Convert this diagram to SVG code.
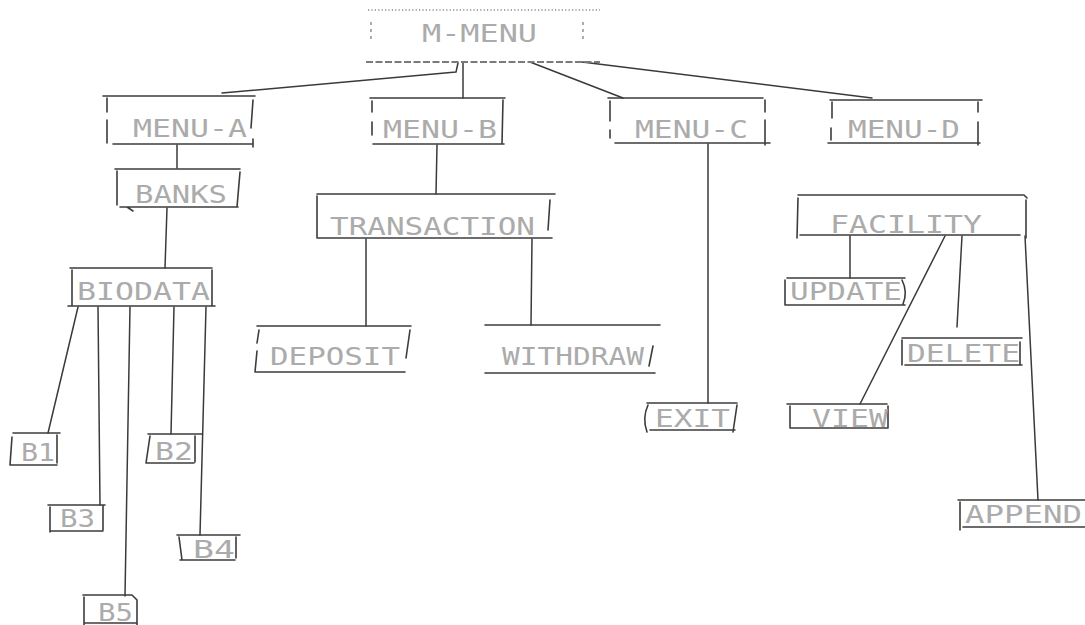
<svg xmlns="http://www.w3.org/2000/svg" width="1085" height="625" viewBox="0 0 1085 625">
  <style>
    .bg { fill: #ffffff; }
    .edge { fill: none; stroke: #3c3c3c; stroke-width: 1.6; stroke-linecap: round; stroke-linejoin: round; }
    .link { fill: none; stroke: #3a3a3a; stroke-width: 1.5; stroke-linecap: round; stroke-linejoin: round; }
    .dots { fill: none; stroke: #8a8a8a; stroke-width: 1.4; stroke-dasharray: 1.2 2.2; }
    .wave { fill: none; stroke: #7a7a7a; stroke-width: 2.2; stroke-dasharray: 7 2.5; }
    .lbl { font-family: "DejaVu Sans Mono", "Liberation Mono", monospace; font-size: 25px; fill: #ababab; }
  </style>

  <rect class="bg" x="0" y="0" width="1085" height="625"/>

  <!-- connectors -->
  <g id="connectors">
    <polyline class="link" points="458,63 456,72 222,93"/>
    <line class="link" x1="463" y1="63" x2="463" y2="98"/>
    <line class="link" x1="530" y1="62" x2="623" y2="98"/>
    <line class="link" x1="582" y1="62" x2="872" y2="98"/>
    <line class="link" x1="177" y1="145" x2="177" y2="168"/>
    <line class="link" x1="167" y1="208" x2="165" y2="268"/>
    <line class="link" x1="78" y1="307" x2="48" y2="433"/>
    <line class="link" x1="98" y1="307" x2="100" y2="505"/>
    <line class="link" x1="130" y1="307" x2="125" y2="596"/>
    <line class="link" x1="174" y1="307" x2="171" y2="434"/>
    <line class="link" x1="206" y1="307" x2="200" y2="535"/>
    <line class="link" x1="437" y1="145" x2="436" y2="194"/>
    <line class="link" x1="366" y1="239" x2="366" y2="326"/>
    <line class="link" x1="532" y1="239" x2="531" y2="325"/>
    <line class="link" x1="708" y1="144" x2="708" y2="403"/>
    <line class="link" x1="850" y1="236" x2="850" y2="278"/>
    <line class="link" x1="945" y1="236" x2="860" y2="404"/>
    <line class="link" x1="962" y1="236" x2="957" y2="327"/>
    <line class="link" x1="1025" y1="236" x2="1038" y2="500"/>
  </g>

  <!-- root -->
  <g id="m-menu">
    <line class="dots" x1="368" y1="10" x2="600" y2="10"/>
    <line class="dots" x1="371" y1="22" x2="371" y2="43" style="stroke-dasharray: 3 4"/>
    <line class="dots" x1="583" y1="22" x2="583" y2="43" style="stroke-dasharray: 3 4"/>
    <line class="wave" x1="366" y1="62" x2="600" y2="62"/>
    <text class="lbl" x="422" y="42" textLength="115" lengthAdjust="spacingAndGlyphs">M-MENU</text>
  </g>

  <g id="menu-a">
    <path class="edge" d="M103,96 H255 M107,98 V112 M107,120 V143 M253,100 L251,128 M113,144 H253 M253,139 V147"/>
    <text class="lbl" x="133" y="137" textLength="114" lengthAdjust="spacingAndGlyphs">MENU-A</text>
  </g>

  <g id="menu-b">
    <path class="edge" d="M370,98 H505 M372,101 V112 M372,122 V135 M503,100 L502,143 M373,144 H504"/>
    <text class="lbl" x="383" y="138" textLength="114" lengthAdjust="spacingAndGlyphs">MENU-B</text>
  </g>

  <g id="menu-c">
    <path class="edge" d="M608,98 H763 M610,101 V121 M610,130 V138 M765,100 V112 M765,120 V145 M615,143 H770"/>
    <text class="lbl" x="635" y="138" textLength="113" lengthAdjust="spacingAndGlyphs">MENU-C</text>
  </g>

  <g id="menu-d">
    <path class="edge" d="M830,100 H982 M832,102 V118 M831,128 V140 M978,102 V112 M978,122 V145 M828,143 H980"/>
    <text class="lbl" x="848" y="138" textLength="112" lengthAdjust="spacingAndGlyphs">MENU-D</text>
  </g>

  <g id="banks">
    <path class="edge" d="M115,169 H240 M117,171 V205 M240,172 L237,207 M120,207 H238 M127,207 L133,211"/>
    <text class="lbl" x="135" y="203" textLength="92" lengthAdjust="spacingAndGlyphs">BANKS</text>
  </g>

  <g id="biodata">
    <path class="edge" d="M70,268 H212 M72,270 V305 M212,270 V306 M68,306 H215"/>
    <text class="lbl" x="77" y="300" textLength="133" lengthAdjust="spacingAndGlyphs">BIODATA</text>
  </g>

  <g id="b1">
    <path class="edge" d="M13,433 H60 M12,437 L10,465 M57,435 V463 M11,465 H57"/>
    <text class="lbl" x="21" y="461" textLength="34" lengthAdjust="spacingAndGlyphs">B1</text>
  </g>

  <g id="b2">
    <path class="edge" d="M148,434 H202 M150,436 L146,463 M195,436 V462 M146,463 H194"/>
    <text class="lbl" x="155" y="460" textLength="38" lengthAdjust="spacingAndGlyphs">B2</text>
  </g>

  <g id="b3">
    <path class="edge" d="M48,505 H105 M50,507 V532 M103,506 V530 M50,531 H103"/>
    <text class="lbl" x="60" y="527" textLength="35" lengthAdjust="spacingAndGlyphs">B3</text>
  </g>

  <g id="b4">
    <path class="edge" d="M177,535 H240 M179,537 L182,560 M236,537 V558 M180,560 H235"/>
    <text class="lbl" x="193" y="558" textLength="42" lengthAdjust="spacingAndGlyphs">B4</text>
  </g>

  <g id="b5">
    <path class="edge" d="M83,595 H132 L137,600 V625 M84,597 V625 M84,623 H137"/>
    <text class="lbl" x="98" y="621" textLength="35" lengthAdjust="spacingAndGlyphs">B5</text>
  </g>

  <g id="transaction">
    <path class="edge" d="M317,194 H555 M317,196 V238 M550,200 L548,230 M317,238 H552"/>
    <text class="lbl" x="330" y="235" textLength="205" lengthAdjust="spacingAndGlyphs">TRANSACTION</text>
  </g>

  <g id="deposit">
    <path class="edge" d="M257,326 H411 M259,330 L257,343 M257,351 L255,372 M410,330 L406,358 M255,372 H405"/>
    <text class="lbl" x="270" y="365" textLength="130" lengthAdjust="spacingAndGlyphs">DEPOSIT</text>
  </g>

  <g id="withdraw">
    <path class="edge" d="M485,325 H660 M485,373 H655 M653,346 L649,366"/>
    <text class="lbl" x="502" y="365" textLength="142" lengthAdjust="spacingAndGlyphs">WITHDRAW</text>
  </g>

  <g id="exit">
    <path class="edge" d="M647,403 H737 M648,405 Q642,418 647,432 M737,405 L733,432 M650,430 H735"/>
    <text class="lbl" x="655" y="427" textLength="75" lengthAdjust="spacingAndGlyphs">EXIT</text>
  </g>

  <g id="facility">
    <path class="edge" d="M798,195 H1024 L1027,198 M798,198 L797,238 M1026,200 V238 M800,235 H1020"/>
    <text class="lbl" x="830" y="233" textLength="152" lengthAdjust="spacingAndGlyphs">FACILITY</text>
  </g>

  <g id="update">
    <path class="edge" d="M787,278 H905 M785,280 V305 M902,280 Q908,292 903,304 M785,305 H905"/>
    <text class="lbl" x="790" y="300" textLength="112" lengthAdjust="spacingAndGlyphs">UPDATE</text>
  </g>

  <g id="delete">
    <path class="edge" d="M902,338 H1022 M902,340 V365 M1020,342 V365 M905,365 H1022"/>
    <text class="lbl" x="907" y="362" textLength="113" lengthAdjust="spacingAndGlyphs">DELETE</text>
  </g>

  <g id="view">
    <path class="edge" d="M787,404 H887 M790,406 V428 M888,406 V428 M790,428 H888"/>
    <text class="lbl" x="812" y="427" textLength="76" lengthAdjust="spacingAndGlyphs">VIEW</text>
  </g>

  <g id="append">
    <path class="edge" d="M958,500 H1085 M960,502 V530 M963,527 H1085"/>
    <text class="lbl" x="965" y="523" textLength="117" lengthAdjust="spacingAndGlyphs">APPEND</text>
  </g>
</svg>
